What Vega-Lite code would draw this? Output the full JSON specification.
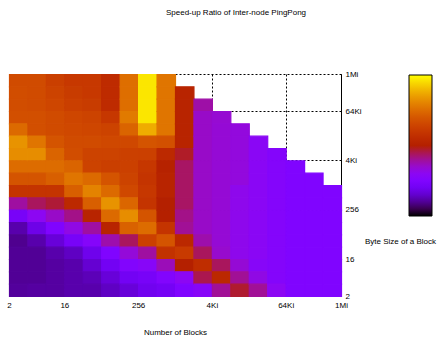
{
  "$schema": "https://vega.github.io/schema/vega-lite/v6.json",
  "width": 332,
  "height": 222,
  "autosize": "none",
  "padding": {"left": 9, "top": 74, "right": 97, "bottom": 44},
  "background": "white",
  "config": {
    "view": {"stroke": null},
    "rect": {"binSpacing": 0},
    "font": "Liberation Sans",
    "axis": {"labelFont": "Liberation Sans", "titleFont": "Liberation Sans", "labelColor": "#000", "titleColor": "#000", "labelFontSize": 8, "titleFontSize": 8, "titleFontWeight": "normal", "zindex": 0}
  },
  "title": {"text": "Speed-up Ratio of Inter-node PingPong", "fontSize": 8, "fontWeight": "normal", "color": "#000", "anchor": "middle", "dx": 61, "offset": 53, "font": "Liberation Sans"},
  "data": {"values": [
    {"col":0,"row":17,"ratio":0.665},{"col":0,"row":16,"ratio":0.67},{"col":0,"row":15,"ratio":0.67},{"col":0,"row":14,"ratio":0.675},{"col":0,"row":13,"ratio":0.745},{"col":0,"row":12,"ratio":0.83},{"col":0,"row":11,"ratio":0.82},{"col":0,"row":10,"ratio":0.75},{"col":0,"row":9,"ratio":0.69},{"col":0,"row":8,"ratio":0.59},{"col":0,"row":7,"ratio":0.39},{"col":0,"row":6,"ratio":0.22},{"col":0,"row":5,"ratio":0.12},{"col":0,"row":4,"ratio":0.095},{"col":0,"row":3,"ratio":0.1},{"col":0,"row":2,"ratio":0.1},{"col":0,"row":1,"ratio":0.1},{"col":0,"row":0,"ratio":0.105},
    {"col":1,"row":17,"ratio":0.665},{"col":1,"row":16,"ratio":0.665},{"col":1,"row":15,"ratio":0.665},{"col":1,"row":14,"ratio":0.675},{"col":1,"row":13,"ratio":0.675},{"col":1,"row":12,"ratio":0.77},{"col":1,"row":11,"ratio":0.82},{"col":1,"row":10,"ratio":0.75},{"col":1,"row":9,"ratio":0.69},{"col":1,"row":8,"ratio":0.59},{"col":1,"row":7,"ratio":0.44},{"col":1,"row":6,"ratio":0.3},{"col":1,"row":5,"ratio":0.185},{"col":1,"row":4,"ratio":0.12},{"col":1,"row":3,"ratio":0.1},{"col":1,"row":2,"ratio":0.1},{"col":1,"row":1,"ratio":0.1},{"col":1,"row":0,"ratio":0.11},
    {"col":2,"row":17,"ratio":0.625},{"col":2,"row":16,"ratio":0.64},{"col":2,"row":15,"ratio":0.65},{"col":2,"row":14,"ratio":0.665},{"col":2,"row":13,"ratio":0.665},{"col":2,"row":12,"ratio":0.69},{"col":2,"row":11,"ratio":0.73},{"col":2,"row":10,"ratio":0.75},{"col":2,"row":9,"ratio":0.72},{"col":2,"row":8,"ratio":0.59},{"col":2,"row":7,"ratio":0.465},{"col":2,"row":6,"ratio":0.355},{"col":2,"row":5,"ratio":0.25},{"col":2,"row":4,"ratio":0.165},{"col":2,"row":3,"ratio":0.12},{"col":2,"row":2,"ratio":0.11},{"col":2,"row":1,"ratio":0.11},{"col":2,"row":0,"ratio":0.11},
    {"col":3,"row":17,"ratio":0.605},{"col":3,"row":16,"ratio":0.615},{"col":3,"row":15,"ratio":0.625},{"col":3,"row":14,"ratio":0.65},{"col":3,"row":13,"ratio":0.655},{"col":3,"row":12,"ratio":0.665},{"col":3,"row":11,"ratio":0.67},{"col":3,"row":10,"ratio":0.73},{"col":3,"row":9,"ratio":0.77},{"col":3,"row":8,"ratio":0.72},{"col":3,"row":7,"ratio":0.545},{"col":3,"row":6,"ratio":0.41},{"col":3,"row":5,"ratio":0.32},{"col":3,"row":4,"ratio":0.22},{"col":3,"row":3,"ratio":0.14},{"col":3,"row":2,"ratio":0.12},{"col":3,"row":1,"ratio":0.12},{"col":3,"row":0,"ratio":0.12},
    {"col":4,"row":17,"ratio":0.605},{"col":4,"row":16,"ratio":0.605},{"col":4,"row":15,"ratio":0.615},{"col":4,"row":14,"ratio":0.64},{"col":4,"row":13,"ratio":0.65},{"col":4,"row":12,"ratio":0.665},{"col":4,"row":11,"ratio":0.64},{"col":4,"row":10,"ratio":0.64},{"col":4,"row":9,"ratio":0.745},{"col":4,"row":8,"ratio":0.8},{"col":4,"row":7,"ratio":0.72},{"col":4,"row":6,"ratio":0.52},{"col":4,"row":5,"ratio":0.39},{"col":4,"row":4,"ratio":0.27},{"col":4,"row":3,"ratio":0.19},{"col":4,"row":2,"ratio":0.155},{"col":4,"row":1,"ratio":0.13},{"col":4,"row":0,"ratio":0.12},
    {"col":5,"row":17,"ratio":0.555},{"col":5,"row":16,"ratio":0.555},{"col":5,"row":15,"ratio":0.555},{"col":5,"row":14,"ratio":0.6},{"col":5,"row":13,"ratio":0.64},{"col":5,"row":12,"ratio":0.655},{"col":5,"row":11,"ratio":0.64},{"col":5,"row":10,"ratio":0.625},{"col":5,"row":9,"ratio":0.69},{"col":5,"row":8,"ratio":0.745},{"col":5,"row":7,"ratio":0.83},{"col":5,"row":6,"ratio":0.745},{"col":5,"row":5,"ratio":0.52},{"col":5,"row":4,"ratio":0.38},{"col":5,"row":3,"ratio":0.25},{"col":5,"row":2,"ratio":0.205},{"col":5,"row":1,"ratio":0.165},{"col":5,"row":0,"ratio":0.14},
    {"col":6,"row":17,"ratio":0.755},{"col":6,"row":16,"ratio":0.755},{"col":6,"row":15,"ratio":0.755},{"col":6,"row":14,"ratio":0.78},{"col":6,"row":13,"ratio":0.73},{"col":6,"row":12,"ratio":0.655},{"col":6,"row":11,"ratio":0.63},{"col":6,"row":10,"ratio":0.63},{"col":6,"row":9,"ratio":0.64},{"col":6,"row":8,"ratio":0.655},{"col":6,"row":7,"ratio":0.735},{"col":6,"row":6,"ratio":0.82},{"col":6,"row":5,"ratio":0.725},{"col":6,"row":4,"ratio":0.44},{"col":6,"row":3,"ratio":0.335},{"col":6,"row":2,"ratio":0.26},{"col":6,"row":1,"ratio":0.205},{"col":6,"row":0,"ratio":0.165},
    {"col":7,"row":17,"ratio":0.965},{"col":7,"row":16,"ratio":0.965},{"col":7,"row":15,"ratio":0.965},{"col":7,"row":14,"ratio":0.965},{"col":7,"row":13,"ratio":0.875},{"col":7,"row":12,"ratio":0.69},{"col":7,"row":11,"ratio":0.63},{"col":7,"row":10,"ratio":0.6},{"col":7,"row":9,"ratio":0.59},{"col":7,"row":8,"ratio":0.6},{"col":7,"row":7,"ratio":0.59},{"col":7,"row":6,"ratio":0.69},{"col":7,"row":5,"ratio":0.75},{"col":7,"row":4,"ratio":0.63},{"col":7,"row":3,"ratio":0.39},{"col":7,"row":2,"ratio":0.28},{"col":7,"row":1,"ratio":0.22},{"col":7,"row":0,"ratio":0.195},
    {"col":8,"row":17,"ratio":0.77},{"col":8,"row":16,"ratio":0.77},{"col":8,"row":15,"ratio":0.77},{"col":8,"row":14,"ratio":0.77},{"col":8,"row":13,"ratio":0.77},{"col":8,"row":12,"ratio":0.68},{"col":8,"row":11,"ratio":0.545},{"col":8,"row":10,"ratio":0.51},{"col":8,"row":9,"ratio":0.52},{"col":8,"row":8,"ratio":0.52},{"col":8,"row":7,"ratio":0.5},{"col":8,"row":6,"ratio":0.5},{"col":8,"row":5,"ratio":0.59},{"col":8,"row":4,"ratio":0.69},{"col":8,"row":3,"ratio":0.58},{"col":8,"row":2,"ratio":0.37},{"col":8,"row":1,"ratio":0.26},{"col":8,"row":0,"ratio":0.21},
    {"col":9,"row":16,"ratio":0.52},{"col":9,"row":15,"ratio":0.52},{"col":9,"row":14,"ratio":0.52},{"col":9,"row":13,"ratio":0.52},{"col":9,"row":12,"ratio":0.52},{"col":9,"row":11,"ratio":0.475},{"col":9,"row":10,"ratio":0.435},{"col":9,"row":9,"ratio":0.435},{"col":9,"row":8,"ratio":0.435},{"col":9,"row":7,"ratio":0.435},{"col":9,"row":6,"ratio":0.41},{"col":9,"row":5,"ratio":0.4},{"col":9,"row":4,"ratio":0.54},{"col":9,"row":3,"ratio":0.61},{"col":9,"row":2,"ratio":0.5},{"col":9,"row":1,"ratio":0.3},{"col":9,"row":0,"ratio":0.25},
    {"col":10,"row":15,"ratio":0.385},{"col":10,"row":14,"ratio":0.355},{"col":10,"row":13,"ratio":0.355},{"col":10,"row":12,"ratio":0.355},{"col":10,"row":11,"ratio":0.355},{"col":10,"row":10,"ratio":0.355},{"col":10,"row":9,"ratio":0.355},{"col":10,"row":8,"ratio":0.355},{"col":10,"row":7,"ratio":0.355},{"col":10,"row":6,"ratio":0.355},{"col":10,"row":5,"ratio":0.355},{"col":10,"row":4,"ratio":0.38},{"col":10,"row":3,"ratio":0.44},{"col":10,"row":2,"ratio":0.56},{"col":10,"row":1,"ratio":0.45},{"col":10,"row":0,"ratio":0.28},
    {"col":11,"row":14,"ratio":0.345},{"col":11,"row":13,"ratio":0.34},{"col":11,"row":12,"ratio":0.34},{"col":11,"row":11,"ratio":0.34},{"col":11,"row":10,"ratio":0.34},{"col":11,"row":9,"ratio":0.34},{"col":11,"row":8,"ratio":0.34},{"col":11,"row":7,"ratio":0.34},{"col":11,"row":6,"ratio":0.34},{"col":11,"row":5,"ratio":0.34},{"col":11,"row":4,"ratio":0.34},{"col":11,"row":3,"ratio":0.35},{"col":11,"row":2,"ratio":0.44},{"col":11,"row":1,"ratio":0.54},{"col":11,"row":0,"ratio":0.4},
    {"col":12,"row":13,"ratio":0.33},{"col":12,"row":12,"ratio":0.33},{"col":12,"row":11,"ratio":0.33},{"col":12,"row":10,"ratio":0.33},{"col":12,"row":9,"ratio":0.33},{"col":12,"row":8,"ratio":0.31},{"col":12,"row":7,"ratio":0.31},{"col":12,"row":6,"ratio":0.31},{"col":12,"row":5,"ratio":0.31},{"col":12,"row":4,"ratio":0.31},{"col":12,"row":3,"ratio":0.31},{"col":12,"row":2,"ratio":0.34},{"col":12,"row":1,"ratio":0.4},{"col":12,"row":0,"ratio":0.47},
    {"col":13,"row":12,"ratio":0.29},{"col":13,"row":11,"ratio":0.29},{"col":13,"row":10,"ratio":0.29},{"col":13,"row":9,"ratio":0.29},{"col":13,"row":8,"ratio":0.29},{"col":13,"row":7,"ratio":0.29},{"col":13,"row":6,"ratio":0.29},{"col":13,"row":5,"ratio":0.29},{"col":13,"row":4,"ratio":0.29},{"col":13,"row":3,"ratio":0.29},{"col":13,"row":2,"ratio":0.28},{"col":13,"row":1,"ratio":0.32},{"col":13,"row":0,"ratio":0.4},
    {"col":14,"row":11,"ratio":0.265},{"col":14,"row":10,"ratio":0.265},{"col":14,"row":9,"ratio":0.265},{"col":14,"row":8,"ratio":0.265},{"col":14,"row":7,"ratio":0.265},{"col":14,"row":6,"ratio":0.265},{"col":14,"row":5,"ratio":0.265},{"col":14,"row":4,"ratio":0.265},{"col":14,"row":3,"ratio":0.265},{"col":14,"row":2,"ratio":0.265},{"col":14,"row":1,"ratio":0.265},{"col":14,"row":0,"ratio":0.3},
    {"col":15,"row":10,"ratio":0.25},{"col":15,"row":9,"ratio":0.25},{"col":15,"row":8,"ratio":0.25},{"col":15,"row":7,"ratio":0.25},{"col":15,"row":6,"ratio":0.25},{"col":15,"row":5,"ratio":0.25},{"col":15,"row":4,"ratio":0.25},{"col":15,"row":3,"ratio":0.25},{"col":15,"row":2,"ratio":0.25},{"col":15,"row":1,"ratio":0.25},{"col":15,"row":0,"ratio":0.25},
    {"col":16,"row":9,"ratio":0.25},{"col":16,"row":8,"ratio":0.25},{"col":16,"row":7,"ratio":0.25},{"col":16,"row":6,"ratio":0.25},{"col":16,"row":5,"ratio":0.25},{"col":16,"row":4,"ratio":0.25},{"col":16,"row":3,"ratio":0.25},{"col":16,"row":2,"ratio":0.25},{"col":16,"row":1,"ratio":0.25},{"col":16,"row":0,"ratio":0.25},
    {"col":17,"row":8,"ratio":0.25},{"col":17,"row":7,"ratio":0.25},{"col":17,"row":6,"ratio":0.25},{"col":17,"row":5,"ratio":0.25},{"col":17,"row":4,"ratio":0.25},{"col":17,"row":3,"ratio":0.25},{"col":17,"row":2,"ratio":0.25},{"col":17,"row":1,"ratio":0.25},{"col":17,"row":0,"ratio":0.25}
  ]},
  "mark": {"type": "rect", "binSpacing": 0, "strokeWidth": 1.2, "stroke": {"expr": "scale('color', datum.ratio)"}},
  "encoding": {
    "x": {
      "field": "col", "type": "quantitative", "bin": {"binned": true, "step": 1},
      "scale": {"domain": [0, 18], "nice": false, "zero": false},
      "axis": {
        "values": [0, 3, 7, 11, 15, 18],
        "labelExpr": "datum.value == 0 ? '2' : datum.value == 3 ? '16' : datum.value == 7 ? '256' : datum.value == 11 ? '4Ki' : datum.value == 15 ? '64Ki' : '1Mi'",
        "labelFlush": false, "labelPadding": 5, "labelBaseline": "top",
        "ticks": false, "domain": false,
        "grid": true, "gridColor": "#000", "gridDash": [2, 2], "gridWidth": 1, "gridOpacity": 1,
        "title": "Number of Blocks", "titleX": 166, "titleY": 36, "titleBaseline": "middle", "titleAlign": "center"
      }
    },
    "y": {
      "field": "row", "type": "quantitative", "bin": {"binned": true, "step": 1},
      "scale": {"domain": [0, 18], "nice": false, "zero": false},
      "axis": {
        "orient": "right",
        "values": [0, 3, 7, 11, 15, 18],
        "labelExpr": "datum.value == 0 ? '2' : datum.value == 3 ? '16' : datum.value == 7 ? '256' : datum.value == 11 ? '4Ki' : datum.value == 15 ? '64Ki' : '1Mi'",
        "labelFlush": false, "labelPadding": 4, "labelAlign": "left", "labelBaseline": "middle",
        "ticks": false, "domain": true, "domainColor": "#000", "domainWidth": 1,
        "grid": true, "gridColor": "#000", "gridDash": [2, 2], "gridWidth": 1, "gridOpacity": 1,
        "title": "Byte Size of a Block", "titleAngle": 0, "titleX": 59, "titleY": 167, "titleBaseline": "middle", "titleAlign": "center"
      }
    },
    "color": {
      "field": "ratio", "type": "quantitative",
      "scale": {"domain": [0, 1], "interpolate": "rgb", "range": ["#000000", "#39004F", "#510096", "#6301CE", "#7202F3", "#8004FF", "#8C07F3", "#970BCE", "#A11096", "#AB174F", "#B42000", "#BD2A00", "#C63700", "#CE4600", "#D55700", "#DD6C00", "#E48300", "#EB9D00", "#F2BA00", "#F9DB00", "#FFFF00"]},
      "legend": {
        "type": "gradient",
        "orient": "none", "legendX": 400, "legendY": 1, "direction": "vertical",
        "gradientLength": 141, "gradientThickness": 23, "gradientStrokeColor": "#000", "gradientStrokeWidth": 1,
        "title": null, "labelExpr": "''", "labelOpacity": 0, "labelFontSize": 1, "labelOffset": 0, "padding": 0
      }
    }
  }
}
